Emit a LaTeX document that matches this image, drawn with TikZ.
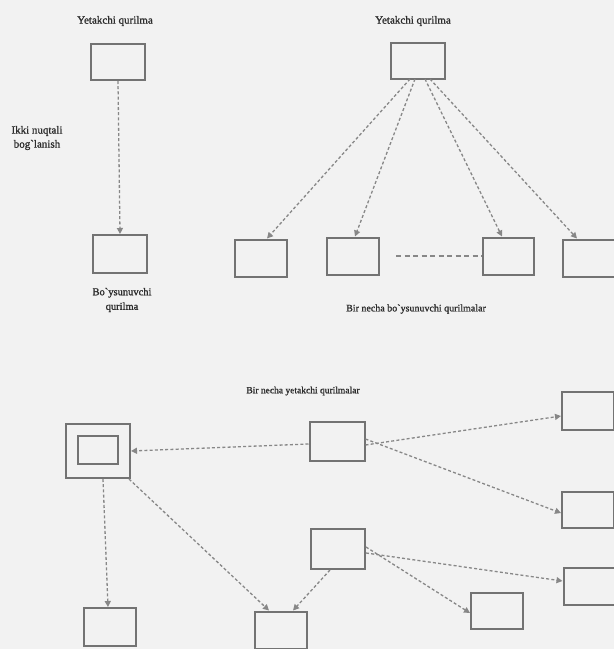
\documentclass[tikz,border=0pt]{standalone}
\usepackage{fontspec}
\setmainfont{Liberation Serif}
\newfontfamily\labfont[FakeBold=1.2]{Liberation Serif}
\usetikzlibrary{arrows.meta}
\definecolor{bgc}{RGB}{242,242,242}
\definecolor{linec}{RGB}{115,115,115}
\definecolor{connc}{RGB}{135,135,135}
\definecolor{txtc}{RGB}{45,45,45}
\tikzset{
  box/.style={draw=linec, line width=2pt, inner sep=0pt, minimum width=#1},
  box/.default=52pt,
  conn/.style={draw=connc, line width=1.3pt, dash pattern=on 3pt off 2.2pt,
    -{Triangle[length=6pt,width=6pt]}},
  plaindash/.style={draw=connc, line width=1.3pt, dash pattern=on 5pt off 3.5pt},
  lab/.style={text=txtc, align=center, inner sep=0pt}
}
\newcommand{\labsize}[1]{\labfont\fontsize{#1}{#1}\selectfont}
\begin{document}
\begin{tikzpicture}[x=1pt,y=-1pt]
\fill[bgc] (0,0) rectangle (614,649);
\useasboundingbox (0,0) rectangle (614,649);

% ---------- top left: point-to-point ----------
\node[lab, font=\labsize{11}] (t1) at (115,21) {Yetakchi qurilma};
\node[box=54pt, minimum height=36pt] (L1) at (118,62) {};
\node[box=54pt, minimum height=38pt] (S1) at (120,254) {};
\node[lab, font=\labsize{11}, align=center] (t2) at (37,138) {Ikki nuqtali\\[3pt]bog`lanish};
\node[lab, font=\labsize{10.5}] (t3) at (122,300) {Bo`ysunuvchi\\[4pt]qurilma};
\draw[conn] (L1.south) -- (S1.north);

% ---------- top right: one leader, several subordinates ----------
\node[lab, font=\labsize{11}] (t4) at (413,21) {Yetakchi qurilma};
\node[box=54pt, minimum height=36pt] (T2) at (418,61) {};
\node[box=52pt, minimum height=37pt] (A) at (261,258) {};
\node[box=52pt, minimum height=37pt] (B) at (353,256) {};
\node[box=51pt, minimum height=37pt] (C) at (508,256) {};
\node[box=52pt, minimum height=37pt] (D) at (589,258) {};
\node[lab, font=\labsize{10}] (t5) at (416,309) {Bir necha bo`ysunuvchi qurilmalar};
\coordinate (o1) at (410,79);
\coordinate (o2) at (415,79);
\coordinate (o3) at (425,79);
\coordinate (o4) at (430,79);
\draw[conn] (o1) -- ([xshift=6pt]A.north);
\draw[conn] (o2) -- ([xshift=2pt]B.north);
\draw[conn] (o3) -- ([xshift=-6pt]C.north);
\draw[conn] (o4) -- ([xshift=-12pt]D.north);
\coordinate (d1) at (396,256);
\draw[plaindash] (d1) -- (C.west);

% ---------- bottom: several leaders ----------
\node[lab, font=\labsize{9.5}] (t6) at (303,391) {Bir necha yetakchi qurilmalar};
\node[box=64pt, minimum height=54pt] (DB) at (98,451) {};
\node[box=40pt, minimum height=28pt] (DBi) at (98,450) {};
\node[box=55pt, minimum height=39pt] (M1) at (337,441) {};
\node[box=52pt, minimum height=38pt] (R1) at (588,411) {};
\node[box=52pt, minimum height=36pt] (R2) at (588,510) {};
\node[box=54pt, minimum height=40pt] (M2) at (338,549) {};
\node[box=51pt, minimum height=37pt] (R3) at (589,586) {};
\node[box=52pt, minimum height=36pt] (R4) at (497,611) {};
\node[box=52pt, minimum height=38pt] (BL) at (110,627) {};
\node[box=52pt, minimum height=37pt] (BM) at (281,630) {};

\draw[conn] ([yshift=-3pt]M1.west) -- (DB.east);
\draw[conn] ([yshift=-4pt]M1.east) -- ([yshift=-5pt]R1.west);
\draw[conn] ([yshift=2pt]M1.east) -- ([yshift=-3pt]R2.west);
\draw[conn] ([yshift=-4pt]M2.east) -- ([yshift=5pt]R3.west);
\draw[conn] ([yshift=2pt]M2.east) -- ([yshift=-2pt]R4.west);
\draw[conn] ([xshift=-8pt]M2.south) -- ([xshift=12pt]BM.north);
\draw[conn] ([xshift=-2pt]DB.south east) -- ([xshift=-12pt]BM.north);
\draw[conn] ([xshift=5pt]DB.south) -- ([xshift=-2pt]BL.north);
\end{tikzpicture}
\end{document}
